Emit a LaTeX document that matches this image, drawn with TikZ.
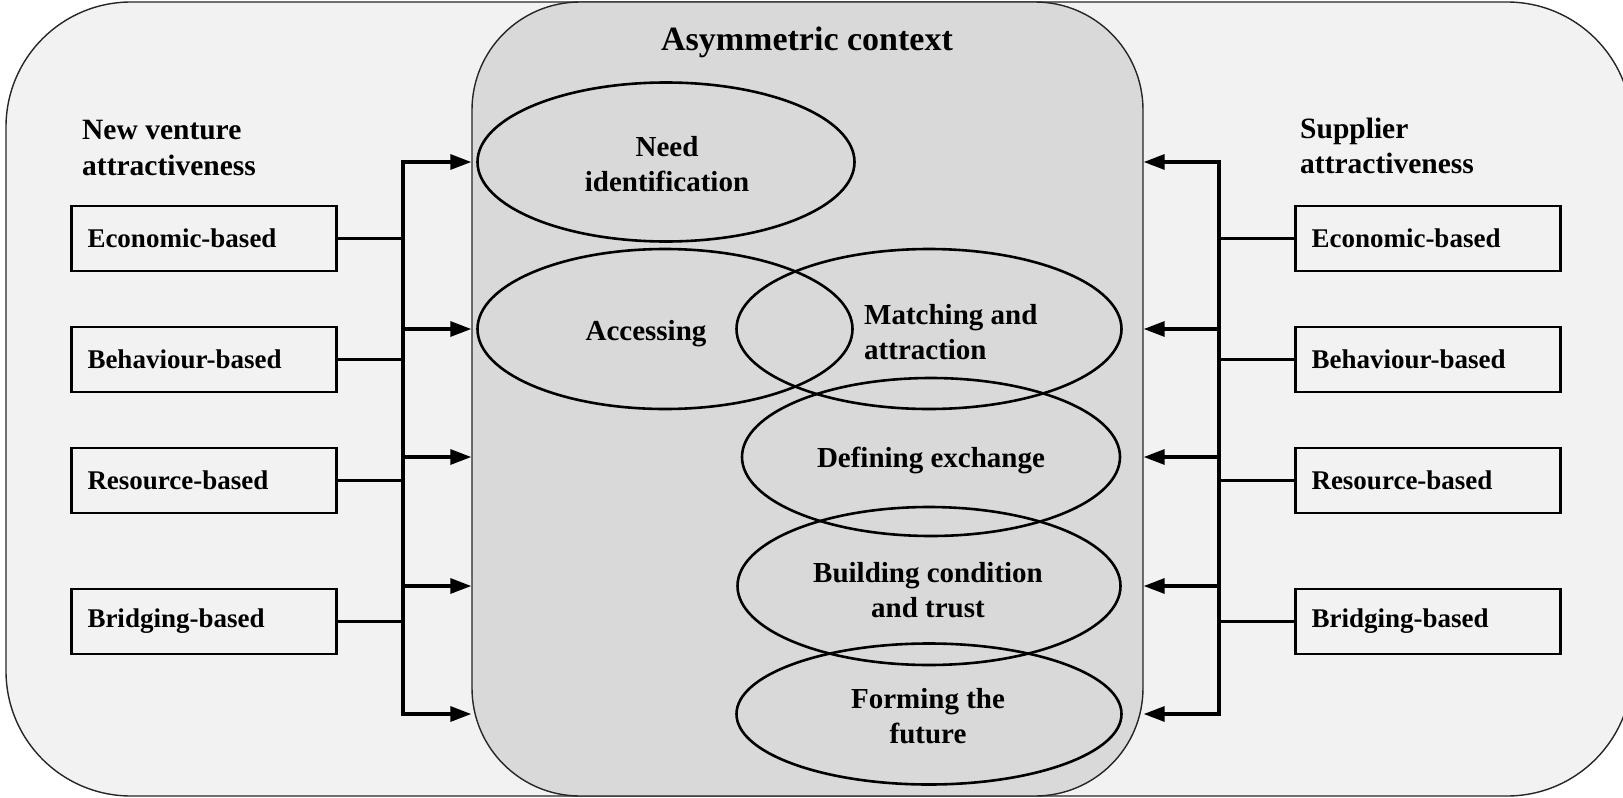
\documentclass[tikz,border=0pt]{standalone}
\usepackage{fontspec}
\setmainfont{Liberation Serif}
\usetikzlibrary{arrows.meta,shapes.geometric}
\definecolor{bgout}{RGB}{242,242,242}
\definecolor{bgin}{RGB}{217,217,217}
\newcommand{\boxfont}{\fontsize{27}{32}\selectfont\bfseries}
\newcommand{\ovalfont}{\fontsize{29}{35}\selectfont\bfseries}
\newcommand{\headfont}{\fontsize{29.5}{35.5}\selectfont\bfseries}
\newcommand{\titlefont}{\fontsize{34}{40}\selectfont\bfseries}

\begin{document}
\begin{tikzpicture}[x=1pt,y=-1pt,
  panel/.style={draw=black!85,line width=1.4pt,inner sep=0pt},
  factor/.style={draw,line width=2.6pt,fill=bgout,minimum height=65pt,text width=233pt,
    inner xsep=16pt,inner ysep=0pt,align=left,font=\boxfont},
  phase/.style={ellipse,draw,line width=2.6pt,inner sep=0pt},
  phasetext/.style={inner sep=0pt,align=center,font=\ovalfont},
  heading/.style={inner sep=0pt,align=left,anchor=west,font=\headfont},
  link/.style={line width=3.2pt},
  feed/.style={link,-{Triangle[length=21pt,width=15pt]}}
]
\useasboundingbox (0,0) rectangle (1623,798);
\clip (0,0) rectangle (1623,798);

% outer frame and the asymmetric-context band
\node[panel,fill=bgout,rounded corners=125pt,minimum width=1626pt,minimum height=794pt] (frame) at (819,399) {};
\node[panel,fill=bgin,rounded corners=108pt,minimum width=671pt,minimum height=794pt] (ctx) at (807.5,399) {};
\node[font=\titlefont,inner sep=0pt] (title) at (807,42) {Asymmetric context};

% phases of the relationship
\node[phase,minimum width=377pt,minimum height=159pt] (need) at (666,162) {};
\node[phase,minimum width=375pt,minimum height=160pt] (acc) at (665,329) {};
\node[phase,minimum width=385pt,minimum height=160pt] (match) at (929,329) {};
\node[phase,minimum width=378pt,minimum height=158pt] (def) at (931,457) {};
\node[phase,minimum width=383pt,minimum height=158pt] (build) at (929,586) {};
\node[phase,minimum width=385pt,minimum height=141pt] (form) at (929,714) {};

\node[phasetext] (need-t) at (667,164) {Need\\identification};
\node[phasetext] (acc-t) at (646,334) {Accessing};
\node[phasetext,anchor=west,align=left] (match-t) at (864,332) {Matching and\\attraction};
\node[phasetext] (def-t) at (931,460) {Defining exchange};
\node[phasetext] (build-t) at (928,590) {Building condition\\and trust};
\node[phasetext] (form-t) at (928,716) {Forming the\\future};

% headings
\node[heading] (nv) at (82,148) {New venture\\attractiveness};
\node[heading] (sa) at (1300,146) {Supplier\\attractiveness};

% attractiveness factors
\foreach \n/\t/\y in {eco/Economic-based/238.5,beh/Behaviour-based/359.5,res/Resource-based/480.5,bri/Bridging-based/621.5}{
  \node[factor] (\n-l) at (204,\y) {\t};
  \node[factor] (\n-r) at (1428,\y) {\t};
}

% collector buses
\coordinate (busL) at (403,0);
\coordinate (busR) at (1219,0);

% factors join their bus
\foreach \n in {eco,beh,res,bri}{
  \draw[link] (\n-l.east) -- (\n-l.east -| busL);
  \draw[link] (\n-r.west) -- (\n-r.west -| busR);
}

% left bus feeds each phase
\draw[feed] (busL |- need.center) -- (busL |- form.center) -- (ctx.west |- form.center);
\draw[feed] (busL |- form.center) -- (busL |- need.center) -- (ctx.west |- need.center);
\foreach \p in {acc,def,build}{
  \draw[feed] (busL |- \p.center) -- (ctx.west |- \p.center);
}

% right bus feeds each phase
\draw[feed] (busR |- need.center) -- (busR |- form.center) -- (ctx.east |- form.center);
\draw[feed] (busR |- form.center) -- (busR |- need.center) -- (ctx.east |- need.center);
\foreach \p in {match,def,build}{
  \draw[feed] (busR |- \p.center) -- (ctx.east |- \p.center);
}
\end{tikzpicture}
\end{document}
